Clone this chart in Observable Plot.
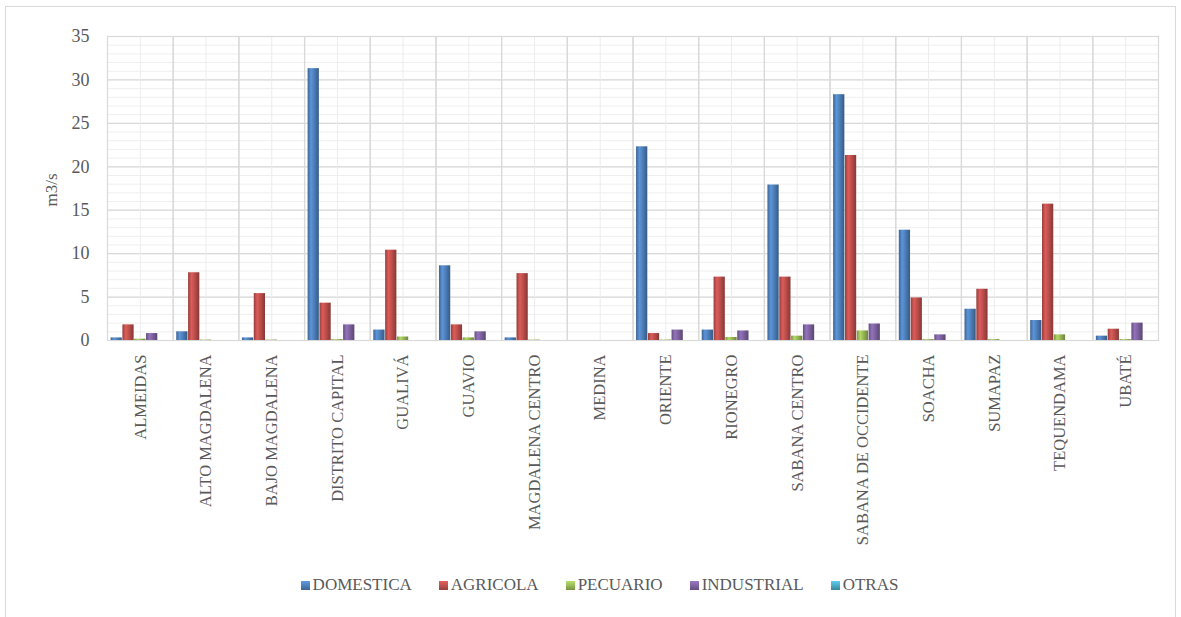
<!DOCTYPE html>
<html>
<head>
<meta charset="utf-8">
<script src="https://cdn.jsdelivr.net/npm/d3@7"></script>
<script src="https://cdn.jsdelivr.net/npm/@observablehq/plot@0.6"></script>
<style>
  body { margin: 0; background: #fff; }
  #wrap { position: relative; width: 1181px; height: 617px; font-family: "Liberation Serif", "DejaVu Serif", "Noto Serif", serif; color: #595959; }
  #border { position: absolute; left: 5px; top: 6px; width: 1171px; height: 620px; border: 1px solid #d9d9d9; box-sizing: border-box; }
  #chart { position: absolute; left: 0; top: 0; }
  #ylabel { position: absolute; left: 52px; top: 190px; transform: translate(-50%, -50%) rotate(-90deg); font-size: 17px; white-space: nowrap; }
  #legend { position: absolute; left: 0; top: 575px; width: 1181px; display: flex; justify-content: center; gap: 27px; font-size: 17px; padding-left: 18px; box-sizing: border-box; }
  .item { display: flex; align-items: center; gap: 3px; }
  .sw { width: 9px; height: 9px; display: inline-block; }
</style>
</head>
<body>
<div id="wrap">
  <div id="border"></div>
  <div id="chart"></div>
  <div id="ylabel">m3/s</div>
  <div id="legend"></div>
</div>
<script>
const categories = ["ALMEIDAS","ALTO MAGDALENA","BAJO MAGDALENA","DISTRITO CAPITAL","GUALIVÁ","GUAVIO","MAGDALENA CENTRO","MEDINA","ORIENTE","RIONEGRO","SABANA CENTRO","SABANA DE OCCIDENTE","SOACHA","SUMAPAZ","TEQUENDAMA","UBATÉ"];
const series = ["DOMESTICA","AGRICOLA","PECUARIO","INDUSTRIAL","OTRAS"];
const domestica  = [0.3, 1.0, 0.3, 31.3, 1.2, 8.6, 0.3, 0, 22.3, 1.2, 17.9, 28.3, 12.7, 3.6, 2.3, 0.5];
const agricola   = [1.8, 7.8, 5.4, 4.3, 10.4, 1.8, 7.7, 0, 0.8, 7.3, 7.3, 21.3, 4.9, 5.9, 15.7, 1.3];
const pecuario   = [0.15, 0.05, 0.05, 0.1, 0.4, 0.3, 0.05, 0, 0.05, 0.35, 0.5, 1.1, 0.1, 0.1, 0.65, 0.1];
const industrial = [0.8, 0, 0, 1.8, 0, 1.0, 0, 0, 1.2, 1.1, 1.8, 1.9, 0.65, 0, 0, 2.0];
const otras      = [0, 0, 0, 0, 0, 0, 0, 0, 0, 0, 0, 0, 0, 0, 0, 0];
const yTicks = [0, 5, 10, 15, 20, 25, 30, 35];
const minorTicks = d3.range(0, 36, 1);

const baseColors = ["#4f81bd", "#c0504d", "#9bbb59", "#8064a2", "#4bacc6"];
const seriesValues = [domestica, agricola, pecuario, industrial, otras];
const FONT = '"Liberation Serif", "DejaVu Serif", "Noto Serif", serif';

const rows = [];
categories.forEach((c, i) => {
  series.forEach((s, j) => rows.push({cat: c, series: s, value: seriesValues[j][i]}));
});

const chart = Plot.plot({
  width: 1181,
  height: 560,
  marginTop: 36,
  marginBottom: 220,
  marginLeft: 107,
  marginRight: 23,
  style: {fontFamily: FONT, fontSize: "16.5px", color: "#595959", background: "transparent"},
  fx: {domain: categories, padding: 0, round: false, tickRotate: -90, tickSize: 0, tickPadding: 14, label: null},
  x: {domain: series, paddingInner: 0.05, paddingOuter: 0.3, round: false, axis: null},
  y: {domain: [0, 35], ticks: yTicks, tickSize: 0, tickPadding: 18, label: null},
  color: {domain: series, range: series.map((d, i) => `url(#grad${i})`)},
  marks: [
    Plot.ruleY(minorTicks, {stroke: "#efefef", strokeWidth: 1}),
    Plot.ruleY(yTicks, {stroke: "#d9d9d9", strokeWidth: 1.2}),
    Plot.ruleX(["PECUARIO"], {stroke: "#ececec", strokeWidth: 1}),
    Plot.frame({stroke: "#d9d9d9", strokeWidth: 1.2}),
    Plot.barY(rows, {fx: "cat", x: "series", y: "value", fill: "series"})
  ]
});

const svg = chart.tagName.toLowerCase() === "svg" ? chart : chart.querySelector("svg");
const ns = "http://www.w3.org/2000/svg";
const defs = document.createElementNS(ns, "defs");
function mkGrad(id, base) {
  const g = document.createElementNS(ns, "linearGradient");
  g.setAttribute("id", id);
  g.setAttribute("x1", "0"); g.setAttribute("x2", "1");
  g.setAttribute("y1", "0"); g.setAttribute("y2", "0");
  const c = d3.color(base);
  const stops = [[0, c.darker(0.7)], [0.3, c.brighter(0.4)], [0.55, c], [1, c.darker(1.0)]];
  stops.forEach(([o, col]) => {
    const s = document.createElementNS(ns, "stop");
    s.setAttribute("offset", o);
    s.setAttribute("stop-color", col.formatHex());
    g.appendChild(s);
  });
  return g;
}
baseColors.forEach((b, i) => defs.appendChild(mkGrad(`grad${i}`, b)));
svg.insertBefore(defs, svg.firstChild);
svg.setAttribute("font-family", FONT);
svg.style.fontFamily = FONT;
svg.querySelectorAll("text").forEach(t => { t.setAttribute("fill", "#595959"); t.style.fontFamily = FONT; });
// y-axis tick labels slightly larger, as in the reference
svg.querySelectorAll("[aria-label='y-axis tick label'] text").forEach(t => { t.style.fontSize = "18px"; });
document.getElementById("chart").appendChild(chart);

// legend
const legend = document.getElementById("legend");
series.forEach((s, i) => {
  const item = document.createElement("div");
  item.className = "item";
  const sw = document.createElement("span");
  sw.className = "sw";
  const c = d3.color(baseColors[i]);
  sw.style.background = `linear-gradient(180deg, ${c.brighter(0.5).formatHex()}, ${c.formatHex()} 50%, ${c.darker(0.7).formatHex()})`;
  const label = document.createElement("span");
  label.textContent = s;
  item.appendChild(sw);
  item.appendChild(label);
  legend.appendChild(item);
});
</script>
</body>
</html>
